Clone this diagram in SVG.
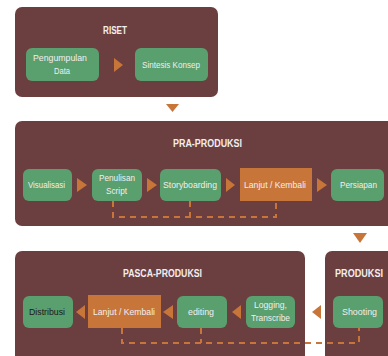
<svg xmlns="http://www.w3.org/2000/svg" width="388" height="356" viewBox="0 0 388 356">
<style>
.stage{fill:#6b3f3f}
.g{fill:#5a9f6e}
.o{fill:#c87539}
.arr{fill:#c87539}
.t{font-family:"Liberation Sans",Arial,sans-serif;font-size:9.5px;fill:#f2eeee;text-anchor:middle}
.h{font-family:"Liberation Sans",Arial,sans-serif;font-size:10px;font-weight:bold;fill:#f2eeee;text-anchor:middle}
.d{fill:none;stroke:#c87539;stroke-width:2;stroke-dasharray:6,5}
</style>
<rect width="388" height="356" fill="#ffffff"/>
<g id="riset">
<rect class="stage" x="15" y="7" width="203" height="90" rx="7"/>
<text class="h" x="115" y="34" textLength="24" lengthAdjust="spacingAndGlyphs">RISET</text>
</g>
<g id="pra-produksi">
<rect class="stage" x="15" y="121" width="385" height="105" rx="7"/>
<text class="h" x="207.5" y="147" textLength="69" lengthAdjust="spacingAndGlyphs">PRA-PRODUKSI</text>
</g>
<g id="pasca-produksi">
<rect class="stage" x="15" y="251" width="290" height="115" rx="7"/>
<text class="h" x="162.5" y="277" textLength="79" lengthAdjust="spacingAndGlyphs">PASCA-PRODUKSI</text>
</g>
<g id="produksi">
<rect class="stage" x="325" y="251" width="75" height="115" rx="7"/>
<text class="h" x="359" y="277" textLength="48" lengthAdjust="spacingAndGlyphs">PRODUKSI</text>
</g>
<g id="connectors">
<polyline class="d" points="113,201 113,217 276,217 276,201"/>
<line class="d" x1="190" y1="201" x2="190" y2="217"/>
<polyline class="d" points="122,328 122,343 359,343 359,328"/>
<line class="d" x1="201" y1="328" x2="201" y2="343"/>
<polygon class="arr" points="114,58 123,65 114,72"/>
<polygon class="arr" points="166,104 179,104 172.5,112"/>
<polygon class="arr" points="77,178 87,185 77,192"/>
<polygon class="arr" points="147,178 157,185 147,192"/>
<polygon class="arr" points="226,178 235,185 226,192"/>
<polygon class="arr" points="317,178 327,185 317,192"/>
<polygon class="arr" points="353,233 367,233 360,243"/>
<polygon class="arr" points="321,305 312,312 321,319"/>
<polygon class="arr" points="241,305 232,312 241,319"/>
<polygon class="arr" points="173,305 163,312 173,319"/>
<polygon class="arr" points="85,305 76,312 85,319"/>
</g>
<g id="pengumpulan-data">
<rect class="g" x="26" y="48" width="73" height="33" rx="6"/>
<text class="t" x="60" y="61" textLength="54" lengthAdjust="spacingAndGlyphs">Pengumpulan</text>
<text class="t" x="62" y="74" textLength="16" lengthAdjust="spacingAndGlyphs">Data</text>
</g>
<g id="sintesis-konsep">
<rect class="g" x="135" y="48" width="73" height="33" rx="6"/>
<text class="t" x="171" y="68" textLength="58" lengthAdjust="spacingAndGlyphs">Sintesis Konsep</text>
</g>
<g id="visualisasi">
<rect class="g" x="23" y="169" width="49" height="32" rx="6"/>
<text class="t" x="46.5" y="188" textLength="37" lengthAdjust="spacingAndGlyphs">Visualisasi</text>
</g>
<g id="penulisan-script">
<rect class="g" x="92" y="169" width="50" height="32" rx="6"/>
<text class="t" x="117" y="181" textLength="36" lengthAdjust="spacingAndGlyphs">Penulisan</text>
<text class="t" x="116.5" y="194" textLength="21" lengthAdjust="spacingAndGlyphs">Script</text>
</g>
<g id="storyboarding">
<rect class="g" x="160" y="169" width="61" height="32" rx="6"/>
<text class="t" x="190" y="188" textLength="54" lengthAdjust="spacingAndGlyphs">Storyboarding</text>
</g>
<g id="lanjut-kembali-1">
<rect class="o" x="240" y="168" width="72" height="33"/>
<text class="t" x="275" y="188" textLength="62" lengthAdjust="spacingAndGlyphs">Lanjut / Kembali</text>
</g>
<g id="persiapan">
<rect class="g" x="331" y="169" width="53" height="32" rx="6"/>
<text class="t" x="358.5" y="188" textLength="37" lengthAdjust="spacingAndGlyphs">Persiapan</text>
</g>
<g id="distribusi">
<rect class="g" x="23" y="296" width="50" height="32" rx="6"/>
<text class="t" x="47" y="315" textLength="36" lengthAdjust="spacingAndGlyphs" style="fill:#1a1a1a">Distribusi</text>
</g>
<g id="lanjut-kembali-2">
<rect class="o" x="88" y="295" width="73" height="33"/>
<text class="t" x="124" y="315" textLength="62" lengthAdjust="spacingAndGlyphs">Lanjut / Kembali</text>
</g>
<g id="editing">
<rect class="g" x="177" y="296" width="50" height="32" rx="6"/>
<text class="t" x="201" y="315" textLength="26" lengthAdjust="spacingAndGlyphs">editing</text>
</g>
<g id="logging-transcribe">
<rect class="g" x="246" y="296" width="49" height="32" rx="6"/>
<text class="t" x="270.5" y="308" textLength="33" lengthAdjust="spacingAndGlyphs">Logging,</text>
<text class="t" x="270.5" y="321" textLength="39" lengthAdjust="spacingAndGlyphs">Transcribe</text>
</g>
<g id="shooting">
<rect class="g" x="333" y="296" width="50" height="32" rx="6"/>
<text class="t" x="359.5" y="315" textLength="35" lengthAdjust="spacingAndGlyphs">Shooting</text>
</g>
</svg>
